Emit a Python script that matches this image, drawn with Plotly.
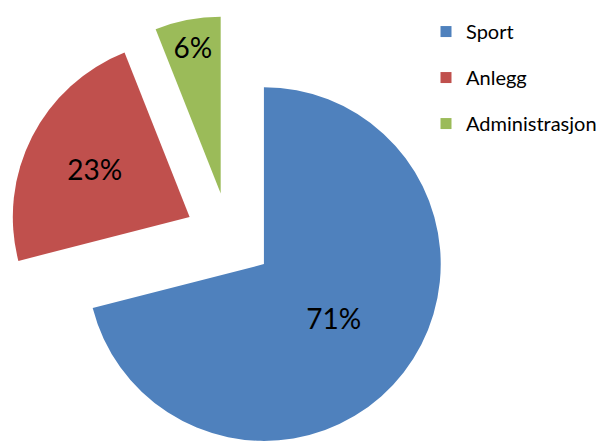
import plotly.graph_objects as go

categories = ["Sport", "Anlegg", "Administrasjon"]
values = [71, 23, 6]
colors = ["#4F81BD", "#C0504D", "#9BBB59"]
pulls = [0.25, 0.25, 0.25]

W, H = 609, 450

fig = go.Figure()
fig.add_trace(go.Pie(
    labels=categories,
    values=values,
    sort=False,
    direction="clockwise",
    rotation=0,
    pull=pulls,
    marker=dict(colors=colors, line=dict(width=0)),
    textinfo="percent",
    texttemplate="%{percent:.0%}",
    textposition="inside",
    insidetextorientation="horizontal",
    textfont=dict(family="Lato", size=28, color="black"),
    showlegend=False,
    hoverinfo="label+percent",
    domain=dict(x=[0, 442 / W], y=[0, 442 / H]),
))

# legend entries
for name, col in zip(categories, colors):
    fig.add_trace(go.Scatter(
        x=[None], y=[None], mode="markers", name=name, legendgroup=name,
        marker=dict(symbol="square", size=11, color=col),
        showlegend=True,
    ))

fig.update_layout(
    width=W, height=H,
    margin=dict(l=0, r=0, t=0, b=0),
    paper_bgcolor="white",
    plot_bgcolor="white",
    xaxis=dict(visible=False),
    yaxis=dict(visible=False),
    legend=dict(
        x=418 / W, y=0.991, xanchor="left", yanchor="top",
        font=dict(family="Lato", size=20, color="black"),
        tracegroupgap=17,
        bgcolor="rgba(0,0,0,0)",
    ),
)

fig.write_html("out.html")
